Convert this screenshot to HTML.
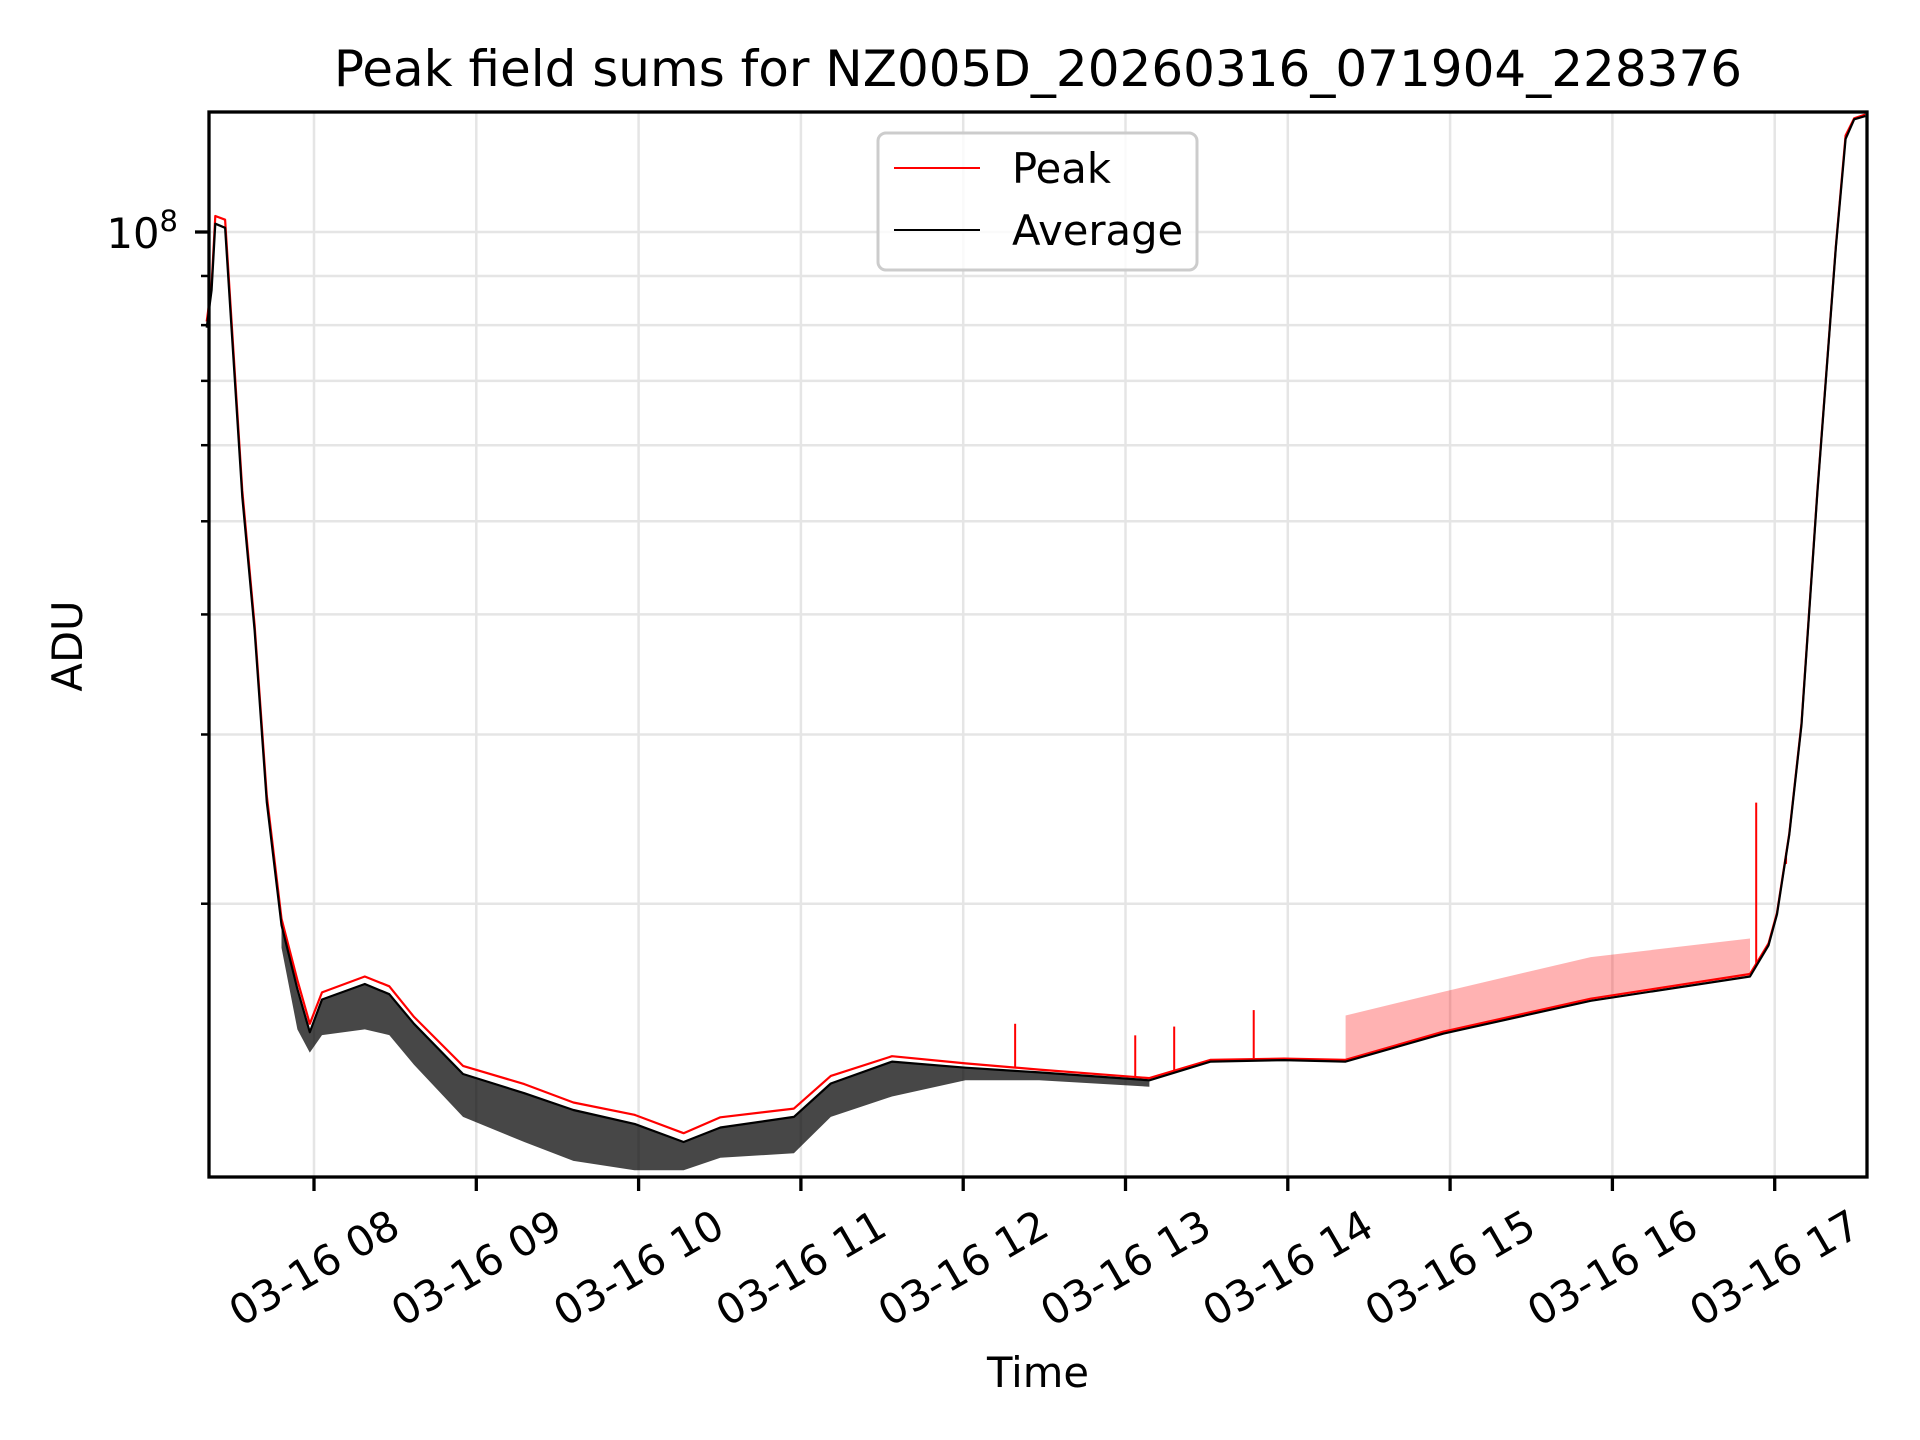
<!DOCTYPE html>
<html><head><meta charset="utf-8">
<style>
html,body{margin:0;padding:0;background:#fff;}
svg{display:block;font-family:"DejaVu Sans","Liberation Sans",sans-serif;}
</style></head>
<body>
<svg id="chart" width="1920" height="1440" viewBox="0 0 1920 1440" xmlns="http://www.w3.org/2000/svg">
<rect width="1920" height="1440" fill="#fff"/>
<text x="1038" y="86" font-size="50" text-anchor="middle">Peak field sums for NZ005D_20260316_071904_228376</text>
<g id="grid"></g>
<g id="bands"></g>
<g id="series"></g>
<g id="axes"></g>
<text transform="translate(82,646) rotate(-90)" font-size="41.7" text-anchor="middle">ADU</text>
<text x="1038" y="1387" font-size="41.7" text-anchor="middle">Time</text>
<g>
<rect x="878" y="133" width="319" height="137" rx="8" fill="#fff" fill-opacity="0.8" stroke="#ccc" stroke-width="3"/>
<line x1="894" y1="168" x2="980" y2="168" stroke="#ff0000" stroke-width="2"/>
<text x="1012" y="183" font-size="41.7">Peak</text>
<line x1="894" y1="230" x2="980" y2="230" stroke="#000" stroke-width="2"/>
<text x="1012" y="245" font-size="41.7">Average</text>
</g>
</svg>
<script>
// Data (hours of day on 03-16; values in units of 1e7 ADU)
const times   = [7.339,7.369,7.392,7.452,7.558,7.634,7.709,7.800,7.898,7.974,8.049,8.313,8.464,8.616,8.918,9.296,9.598,9.975,10.277,10.504,10.957,11.184,11.561,12.014,12.468,13.147,13.525,13.978,14.356,14.960,15.866,16.848,16.962,17.014,17.090,17.165,17.263,17.377,17.437,17.490,17.558];
const peakVals= [8.07,8.81,10.39,10.3,5.38,3.90,2.59,1.93,1.665,1.50,1.617,1.68,1.641,1.525,1.356,1.298,1.242,1.206,1.154,1.199,1.224,1.324,1.388,1.364,1.344,1.317,1.376,1.38,1.376,1.472,1.593,1.69,1.818,1.957,2.367,3.083,5.38,9.68,12.6,13.13,13.25];
const avgVals = [7.95,8.7,10.2,10.1,5.3,3.85,2.55,1.90,1.63,1.47,1.59,1.65,1.61,1.50,1.33,1.27,1.22,1.18,1.13,1.17,1.20,1.30,1.37,1.35,1.335,1.31,1.37,1.375,1.37,1.465,1.585,1.68,1.81,1.95,2.36,3.07,5.36,9.65,12.5,13.1,13.2];
const avgLow  = [null,null,null,null,null,null,null,1.80,1.48,1.40,1.46,1.48,1.46,1.36,1.20,1.13,1.08,1.056,1.056,1.088,1.10,1.20,1.26,1.31,1.31,1.29,null,null,null,null,null,null,null,null,null,null,null,null,null,null,null];
const peakHigh= [null,null,null,null,null,null,null,null,null,null,null,null,null,null,null,null,null,null,null,null,null,null,null,null,null,null,null,null,1.53,1.62,1.76,1.84,null,null,null,null,null,null,null,null,null];
const spikeTimes = [12.32,13.06,13.30,13.79,16.886,17.07];
const spikeVals  = [1.50,1.459,1.49,1.55,2.548,2.2];
const xTickHours = [8,9,10,11,12,13,14,15,16,17];
const xTickLabels= ["03-16 08","03-16 09","03-16 10","03-16 11","03-16 12","03-16 13","03-16 14","03-16 15","03-16 16","03-16 17"];
const yMinorTicks= [2,3,4,5,6,7,8,9];
const yMajorTicks= [10];

const L=209,R=1867,T=112,B=1177;
const xs=h=>314+(h-8)*162.3;
const ys=v=>232-961*Math.log10(v/10);
const NS="http://www.w3.org/2000/svg";
function mk(tag,attrs,parent){const e=document.createElementNS(NS,tag);for(const k in attrs)e.setAttribute(k,attrs[k]);parent.appendChild(e);return e;}
const grid=document.getElementById('grid'),axes=document.getElementById('axes'),series=document.getElementById('series'),bands=document.getElementById('bands');

xTickHours.forEach((h,i)=>{
  const x=xs(h);
  const g=mk('line',{x1:x,x2:x,y1:T,y2:B,stroke:'#e5e5e5','stroke-width':2.5},grid);
  
  
  const t=mk('line',{x1:x,x2:x,y1:B,y2:B+14,stroke:'#000','stroke-width':3.3},axes);
  
  
  const lb=mk('text',{transform:`translate(${x},1268) rotate(-30)`,'font-size':41.7,'text-anchor':'middle','dominant-baseline':'central'},axes);
  lb.textContent=xTickLabels[i];
  
  
});
yMinorTicks.concat(yMajorTicks).forEach(v=>{
  const y=ys(v);
  const g=mk('line',{x1:L,x2:R,y1:y,y2:y,stroke:'#e5e5e5','stroke-width':2.5},grid);
  
  
  const major=yMajorTicks.includes(v);
  const t=mk('line',{x1:L-(major?14:8),x2:L,y1:y,y2:y,stroke:'#000','stroke-width':major?3.3:2.5},axes);
  
  
});
const yl=mk('text',{x:178,y:ys(10)+16,'font-size':41.7,'text-anchor':'end'},axes);
yl.innerHTML='10<tspan dy="-17" font-size="29">8</tspan>';



function bandPath(upper,lower){
  const idx=times.map((t,i)=>i).filter(i=>upper[i]!=null&&lower[i]!=null);
  let d='';
  idx.forEach((i,k)=>{d+=(k?'L':'M')+xs(times[i]).toFixed(1)+','+ys(upper[i]).toFixed(1);});
  idx.slice().reverse().forEach(i=>{d+='L'+xs(times[i]).toFixed(1)+','+ys(lower[i]).toFixed(1);});
  return d+'Z';
}
const lowBand=mk('path',{d:bandPath(avgVals,avgLow),fill:'#000','fill-opacity':0.72},bands);


const highBand=mk('path',{d:bandPath(peakHigh,peakVals),fill:'#ff0000','fill-opacity':0.3},bands);



function linePath(vals){return vals.map((v,i)=>(i?'L':'M')+xs(times[i]).toFixed(1)+','+ys(v).toFixed(1)).join('');}
const pk=mk('path',{d:linePath(peakVals),fill:'none',stroke:'#ff0000','stroke-width':2.2,'stroke-linejoin':'round'},series);


spikeTimes.forEach((t,i)=>{
  const j=times.findIndex(tt=>tt>t);
  const base=peakVals[j-1]+(peakVals[j]-peakVals[j-1])*(t-times[j-1])/(times[j]-times[j-1]);
  const s=mk('line',{x1:xs(t),x2:xs(t),y1:ys(base),y2:ys(spikeVals[i]),stroke:'#ff0000','stroke-width':2},series);
  
  
});
const av=mk('path',{d:linePath(avgVals),fill:'none',stroke:'#000','stroke-width':2.2,'stroke-linejoin':'round'},series);



const frame=mk('rect',{x:L,y:T,width:R-L,height:B-T,fill:'none',stroke:'#000','stroke-width':3.3},axes);


</script>
</body></html>
